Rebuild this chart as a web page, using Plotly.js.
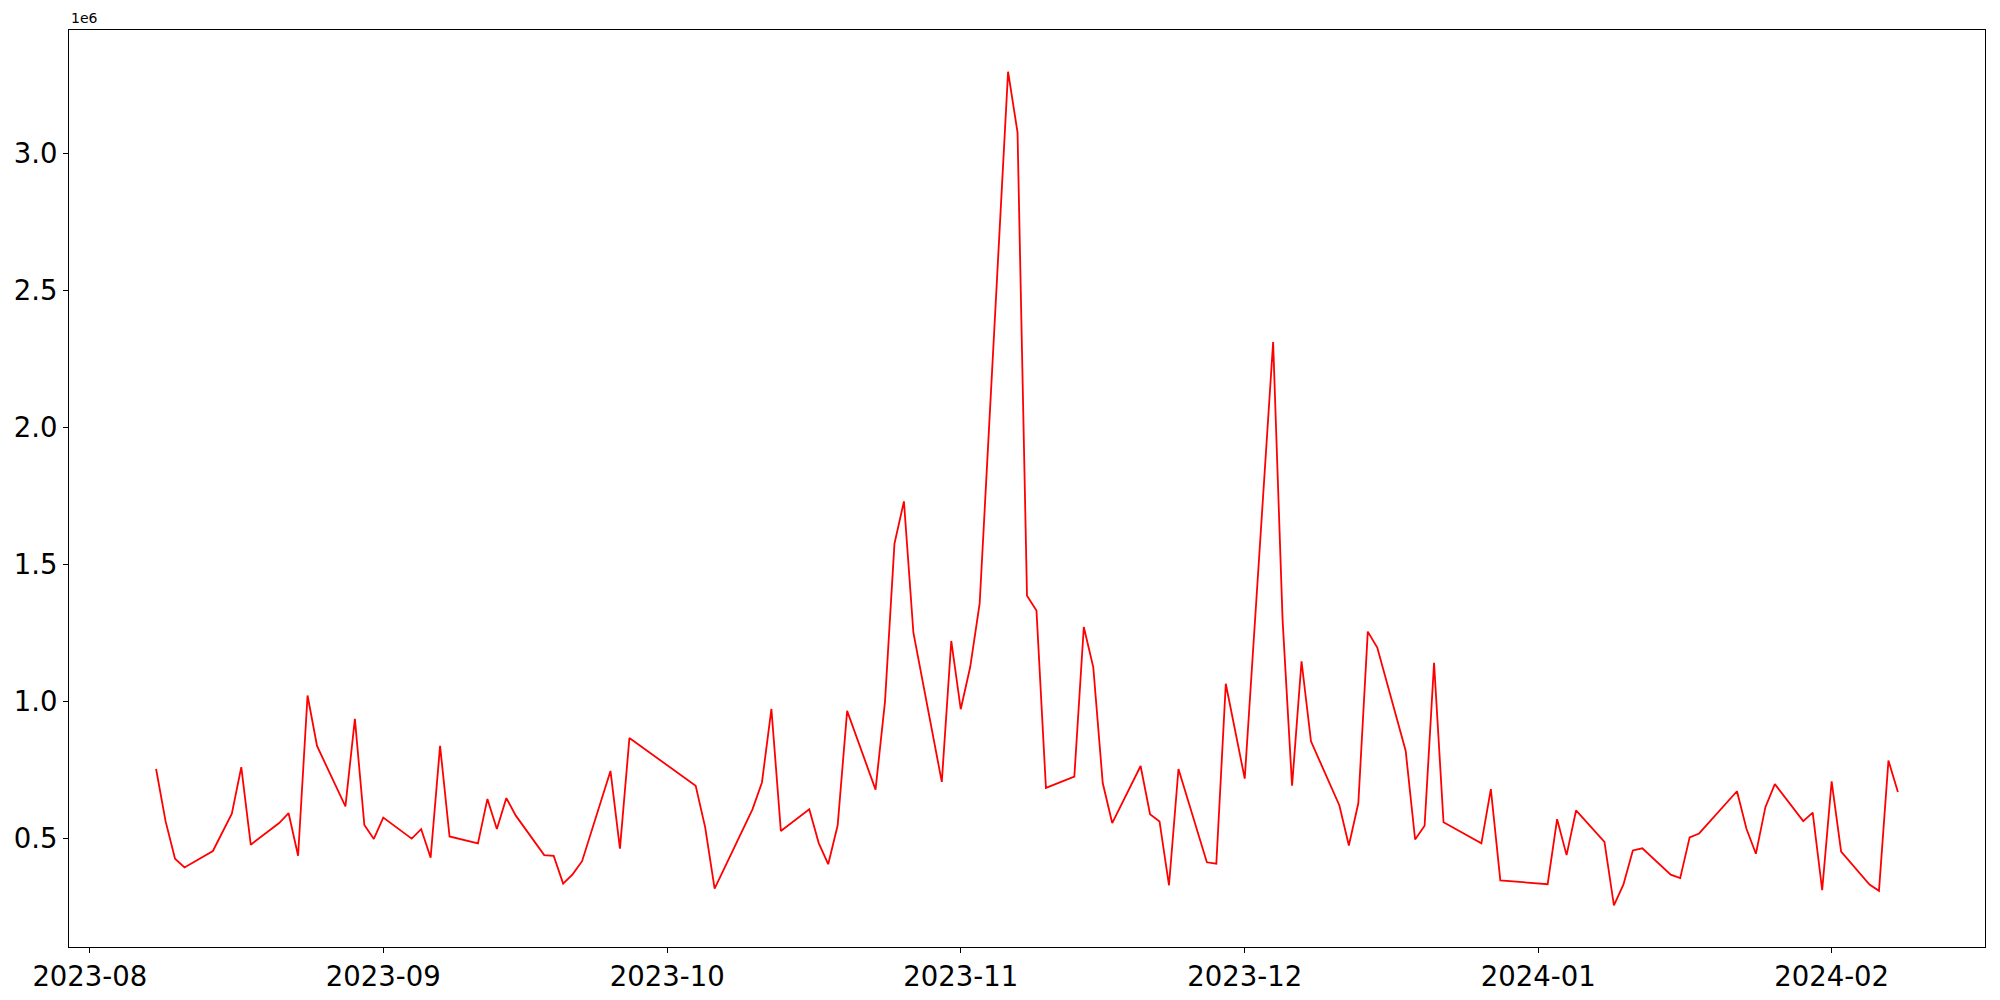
<!DOCTYPE html>
<html>
<head>
<meta charset="utf-8">
<script src="https://cdn.plot.ly/plotly-3.0.1.min.js"></script>
<style>
  html, body { margin: 0; padding: 0; background: #ffffff; }
  #chart { width: 2000px; height: 1000px; }
</style>
</head>
<body>
<div id="chart"></div>
<script>
const dates = [
  "2023-08-08","2023-08-09","2023-08-10","2023-08-11","2023-08-14","2023-08-16","2023-08-17","2023-08-18",
  "2023-08-21","2023-08-22","2023-08-23","2023-08-24","2023-08-25","2023-08-28","2023-08-29","2023-08-30","2023-08-31",
  "2023-09-01","2023-09-04","2023-09-05","2023-09-06","2023-09-07","2023-09-08","2023-09-11","2023-09-12","2023-09-13",
  "2023-09-14","2023-09-15","2023-09-18","2023-09-19","2023-09-20","2023-09-21","2023-09-22","2023-09-25","2023-09-26","2023-09-27",
  "2023-10-04","2023-10-05","2023-10-06","2023-10-10","2023-10-11","2023-10-12","2023-10-13","2023-10-16","2023-10-17",
  "2023-10-18","2023-10-19","2023-10-20","2023-10-23","2023-10-24","2023-10-25","2023-10-26","2023-10-27","2023-10-30","2023-10-31",
  "2023-11-01","2023-11-02","2023-11-03","2023-11-06","2023-11-07","2023-11-08","2023-11-09","2023-11-10","2023-11-13","2023-11-14",
  "2023-11-15","2023-11-16","2023-11-17","2023-11-20","2023-11-21","2023-11-22","2023-11-23","2023-11-24","2023-11-27","2023-11-28","2023-11-29",
  "2023-12-01","2023-12-04","2023-12-05","2023-12-06","2023-12-07","2023-12-08","2023-12-11","2023-12-12","2023-12-13","2023-12-14",
  "2023-12-15","2023-12-18","2023-12-19","2023-12-20","2023-12-21","2023-12-22","2023-12-26","2023-12-27","2023-12-28",
  "2024-01-02","2024-01-03","2024-01-04","2024-01-05","2024-01-08","2024-01-09","2024-01-10","2024-01-11","2024-01-12",
  "2024-01-15","2024-01-16","2024-01-17","2024-01-18","2024-01-22","2024-01-23","2024-01-24","2024-01-25","2024-01-26",
  "2024-01-29","2024-01-30","2024-01-31","2024-02-01","2024-02-02","2024-02-05","2024-02-06","2024-02-07","2024-02-08"
];

const volumes = [
  754000, 564000, 427000, 395000, 455000, 591000, 761000, 478000,
  557000, 593000, 438000, 1022000, 838000, 618000, 937000, 550000, 499000,
  577000, 500000, 535000, 431000, 839000, 508000, 483000, 645000, 535000,
  648000, 584000, 440000, 437000, 336000, 370000, 418000, 747000, 464000, 867000,
  693000, 542000, 318000, 607000, 705000, 973000, 528000, 607000, 484000,
  407000, 549000, 966000, 679000, 1000000, 1576000, 1730000, 1251000, 707000, 1221000,
  972000, 1126000, 1358000, 3297000, 3076000, 1386000, 1332000, 685000, 726000, 1272000,
  1126000, 703000, 557000, 765000, 589000, 563000, 330000, 754000, 414000, 409000, 1065000,
  719000, 2311000, 1297000, 693000, 1147000, 855000, 621000, 475000, 629000, 1255000,
  1197000, 821000, 497000, 547000, 1141000, 560000, 483000, 681000, 348000,
  334000, 571000, 440000, 603000, 488000, 257000, 332000, 457000, 465000,
  369000, 356000, 505000, 519000, 673000, 536000, 445000, 615000, 699000,
  564000, 595000, 312000, 709000, 453000, 333000, 310000, 785000, 670000
];

const yTickVals = [500000, 1000000, 1500000, 2000000, 2500000, 3000000];
const yTickText = ["0.5", "1.0", "1.5", "2.0", "2.5", "3.0"];
const offsetText = "1e6";

// matplotlib-like 5% auto margins
const t0 = new Date(dates[0] + "T00:00:00Z").getTime();
const t1 = new Date(dates[dates.length - 1] + "T00:00:00Z").getTime();
const tpad = (t1 - t0) * 0.05;
const fmt = ms => new Date(ms).toISOString().replace("T", " ").replace("Z", "");
const vmin = Math.min(...volumes), vmax = Math.max(...volumes);
const vpad = (vmax - vmin) * 0.05;

const trace = {
  x: dates,
  y: volumes,
  type: "scatter",
  mode: "lines",
  line: { color: "#ff0000", width: 1.8 },
  hoverinfo: "x+y"
};

const axisCommon = {
  showgrid: false,
  zeroline: false,
  showline: true,
  mirror: true,
  linecolor: "#000000",
  linewidth: 1.1,
  ticks: "outside",
  ticklen: 5,
  tickwidth: 1.1,
  tickcolor: "#000000",
  tickfont: { family: "DejaVu Sans", size: 27.5, color: "#000000" }
};

const layout = {
  width: 2000,
  height: 1000,
  margin: { l: 69, r: 15, t: 30, b: 53, pad: 0 },
  paper_bgcolor: "#ffffff",
  plot_bgcolor: "#ffffff",
  showlegend: false,
  font: { family: "DejaVu Sans", color: "#000000" },
  xaxis: Object.assign({}, axisCommon, {
    type: "date",
    range: [fmt(t0 - tpad), fmt(t1 + tpad)],
    tick0: "2023-08-01",
    dtick: "M1",
    tickformat: "%Y-%m"
  }),
  yaxis: Object.assign({}, axisCommon, {
    range: [vmin - vpad, vmax + vpad],
    tickmode: "array",
    tickvals: yTickVals,
    ticktext: yTickText
  }),
  annotations: [{
    text: offsetText,
    xref: "paper", yref: "paper",
    x: 0, y: 1,
    xanchor: "left", yanchor: "bottom",
    yshift: 2,
    showarrow: false,
    font: { family: "DejaVu Sans", size: 14, color: "#000000" }
  }]
};

Plotly.newPlot("chart", [trace], layout, { displayModeBar: false, staticPlot: true });
</script>
</body>
</html>
